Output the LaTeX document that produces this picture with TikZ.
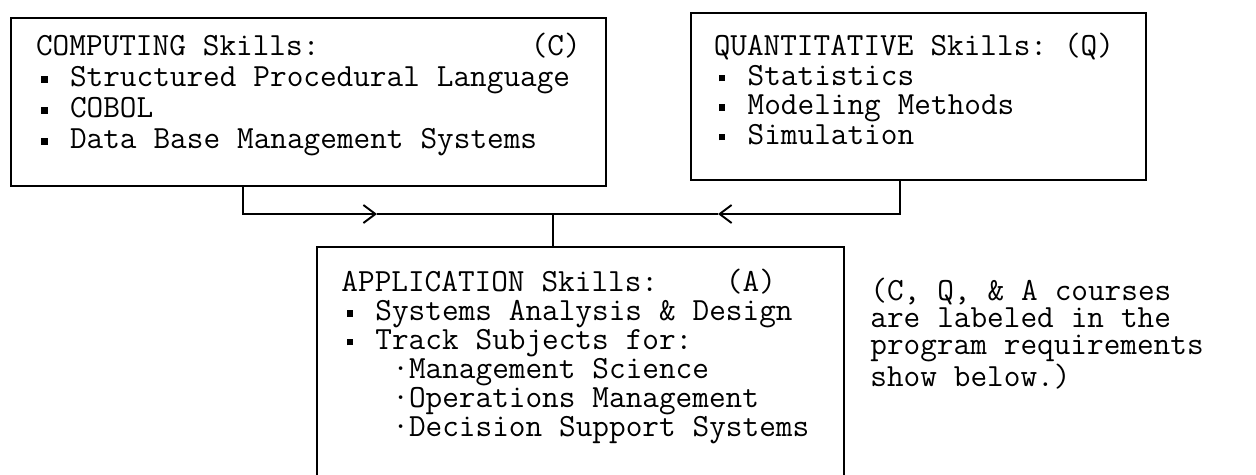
\documentclass[tikz,border=0pt]{standalone}
\usepackage{fontspec}
\usepackage{tikz}
\usetikzlibrary{arrows.meta, positioning}
\newcommand{\typewriter}[1]{\ttfamily\fontsize{18.4pt}{#1}\selectfont
  \fontdimen2\font=0.525em\fontdimen3\font=0pt\fontdimen4\font=0pt}
\newcommand{\sqbullet}{\makebox[0.525em]{\rule[0.13em]{0.2em}{0.2em}}}
\newcommand{\trackitem}{\hspace*{1.575em}·}
\frenchspacing

\begin{document}
\begin{tikzpicture}[x=0.02cm, y=-0.02cm,
  skillbox/.style={draw, line width=1.1pt, anchor=north west, align=flush left, inner ysep=0pt},
  link/.style={line width=1.1pt},
  chev/.style={-{Straight Barb[length=0.24cm, width=0.36cm]}}]
  \useasboundingbox (0,0) rectangle (1256,474);
  \clip (0,0) rectangle (1256,474);

  \node[skillbox, font=\typewriter{17.6pt}, minimum width=11.9cm, text width=310pt, text height=0.76cm, text depth=2.6cm] (comp) at (10,17) {
    COMPUTING Skills:\hfill(C)\\
    \sqbullet{} Structured Procedural Language\\
    \sqbullet{} COBOL\\
    \sqbullet{} Data Base Management Systems
  };
  \node[skillbox, font=\typewriter{16.8pt}, minimum width=9.1cm, text width=233pt, text height=0.86cm, text depth=2.48cm] (quant) at (690,12) {
    QUANTITATIVE Skills: (Q)\\
    \sqbullet{} Statistics\\
    \sqbullet{} Modeling Methods\\
    \sqbullet{} Simulation
  };
  \node[skillbox, font=\typewriter{16.4pt}, minimum width=10.54cm, text width=272pt, text height=0.9cm, text depth=4cm] (appl) at (316,246) {
    APPLICATION Skills:\ \ \ \ (A)\\
    \sqbullet{} Systems Analysis \& Design\\
    \sqbullet{} Track Subjects for:\\
    \trackitem Management Science\\
    \trackitem Operations Management\\
    \trackitem Decision Support Systems
  };
  \node[anchor=north west, align=flush left, inner sep=0pt, font=\typewriter{15.4pt}, text width=195pt, text height=0.4cm] (note) at (870,280) {
    (C, Q, \& A courses\\
    are labeled in the\\
    program requirements\\
    show below.)
  };

  \coordinate (cdrop) at (243,214);
  \coordinate (qdrop) at (900,214);
  \coordinate (cin) at (377,214);
  \coordinate (qin) at (718,214);
  \coordinate (jn) at (553,214);

  \draw[link, chev] (comp.south -| cdrop) |- (cin);
  \draw[link] (cin) -- (jn);
  \draw[link, chev] (quant.south -| qdrop) |- (qin);
  \draw[link] (qin) -- (jn);
  \draw[link] (jn) -- (appl.north -| jn);
\end{tikzpicture}
\end{document}
